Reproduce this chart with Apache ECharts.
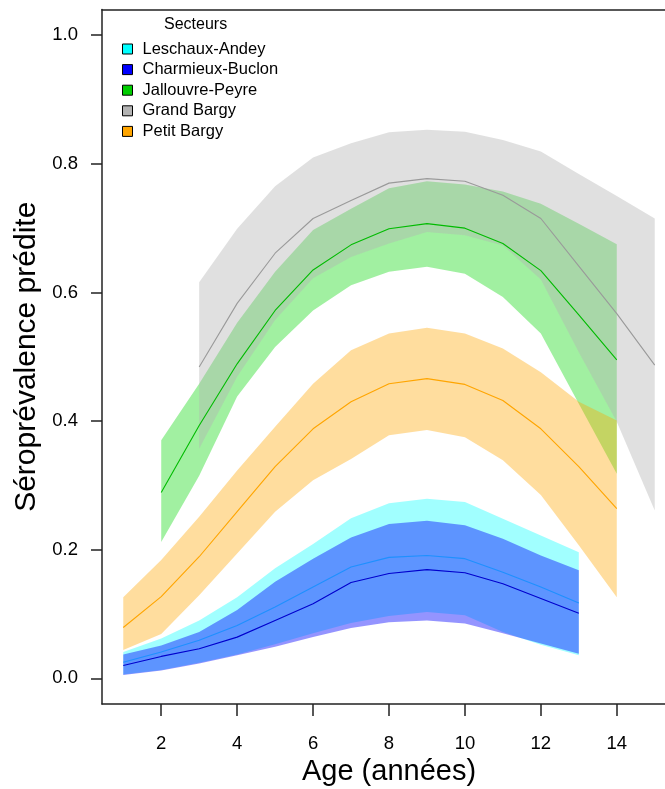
<!DOCTYPE html>
<html>
<head>
<meta charset="utf-8">
<script src="https://cdn.jsdelivr.net/npm/echarts@6/dist/echarts.min.js"></script>
<style>
html,body{margin:0;padding:0;background:#fff;}
#chart{width:665px;height:789px;}
</style>
</head>
<body>
<div id="chart"></div>
<script>
// ---------- data ----------
const sectorNames = ['Leschaux-Andey','Charmieux-Buclon','Jallouvre-Peyre','Grand Bargy','Petit Bargy'];

const ageLA = [1,2,3,4,5,6,7,8,9,10,11,12,13];
const fitLA = [0.025,0.041,0.059,0.082,0.111,0.142,0.173,0.188,0.191,0.186,0.165,0.142,0.117];
const upLA  = [0.041,0.062,0.090,0.126,0.171,0.209,0.249,0.272,0.279,0.274,0.248,0.222,0.196];
const loLA  = [0.006,0.013,0.024,0.037,0.053,0.070,0.086,0.097,0.103,0.098,0.072,0.052,0.036];

const ageCB = [1,2,3,4,5,6,7,8,9,10,11,12,13];
const fitCB = [0.020,0.034,0.046,0.064,0.090,0.116,0.149,0.163,0.169,0.164,0.147,0.124,0.101];
const upCB  = [0.037,0.051,0.072,0.106,0.150,0.186,0.219,0.240,0.245,0.238,0.217,0.191,0.168];
const loCB  = [0.005,0.012,0.023,0.036,0.049,0.064,0.078,0.087,0.090,0.085,0.070,0.054,0.038];

const ageJP = [2,3,4,5,6,7,8,9,10,11,12,13,14];
const fitJP = [0.289,0.393,0.489,0.572,0.635,0.674,0.699,0.707,0.700,0.676,0.634,0.565,0.495];
const upJP  = [0.370,0.458,0.553,0.632,0.697,0.730,0.762,0.773,0.768,0.757,0.738,0.707,0.675];
const loJP  = [0.212,0.315,0.438,0.515,0.572,0.611,0.632,0.640,0.629,0.593,0.536,0.427,0.318];

const ageGB = [3,4,5,6,7,8,9,10,11,12,13,14,15];
const fitGB = [0.484,0.583,0.661,0.715,0.743,0.770,0.777,0.773,0.751,0.715,0.641,0.567,0.487];
const upGB  = [0.616,0.699,0.765,0.810,0.832,0.849,0.853,0.850,0.837,0.819,0.784,0.750,0.715];
const loGB  = [0.357,0.469,0.557,0.622,0.655,0.676,0.694,0.689,0.673,0.620,0.507,0.399,0.261];

const agePB = [1,2,3,4,5,6,7,8,9,10,11,12,13,14];
const fitPB = [0.079,0.127,0.189,0.259,0.329,0.388,0.430,0.458,0.466,0.457,0.432,0.388,0.329,0.264];
const upPB  = [0.126,0.184,0.251,0.323,0.391,0.458,0.510,0.536,0.545,0.536,0.513,0.476,0.430,0.401];
const loPB  = [0.044,0.069,0.129,0.194,0.259,0.308,0.341,0.378,0.386,0.375,0.339,0.285,0.207,0.126];

const xTicks = [2,4,6,8,10,12,14];
const yTicks = [0,0.2,0.4,0.6,0.8,1.0];

// ---------- styling ----------
const FONT = "'Liberation Sans', Arial, sans-serif";
const legendColors = ['#00ffff','#0000ff','#00cd00','#b3b3b3','#ffa500'];
const bandColors = ['rgba(0,255,255,0.37)','rgba(0,0,255,0.42)','rgba(0,215,0,0.37)','rgba(179,179,179,0.41)','rgba(255,165,0,0.38)'];
const lineColors = ['#1e90ff','#0000cd','#00bb00','#9a9a9a','#ffa500'];
const AXIS = { color: '#222', width: 1.5 };

const groups = [
  [ageLA, fitLA, upLA, loLA],
  [ageCB, fitCB, upCB, loCB],
  [ageJP, fitJP, upJP, loJP],
  [ageGB, fitGB, upGB, loGB],
  [agePB, fitPB, upPB, loPB]
];

function bandSeries(name, xs, hi, lo, color, z) {
  return {
    type: 'custom',
    name: name,
    coordinateSystem: 'cartesian2d',
    silent: true,
    z: z,
    data: xs.map((x, i) => [x, lo[i], hi[i]]),
    encode: { x: 0, y: [1, 2] },
    renderItem: function (params, api) {
      if (params.dataIndex !== 0) return null;
      const pts = [];
      for (let i = 0; i < xs.length; i++) pts.push(api.coord([xs[i], hi[i]]));
      for (let i = xs.length - 1; i >= 0; i--) pts.push(api.coord([xs[i], lo[i]]));
      return { type: 'polygon', shape: { points: pts }, style: { fill: color } };
    }
  };
}

const series = [];
groups.forEach((g, k) => {
  series.push(bandSeries(sectorNames[k], g[0], g[2], g[3], bandColors[k], 2 + k * 2));
});
groups.forEach((g, k) => {
  series.push({
    type: 'line',
    name: sectorNames[k],
    data: g[0].map((x, i) => [x, g[1][i]]),
    showSymbol: false,
    symbol: 'none',
    silent: true,
    z: 20 + k,
    lineStyle: { color: lineColors[k], width: 1.1 },
    itemStyle: { color: lineColors[k] }
  });
});

const chart = echarts.init(document.getElementById('chart'), null, { renderer: 'canvas' });
chart.setOption({
  animation: false,
  backgroundColor: '#ffffff',
  textStyle: { fontFamily: FONT },
  grid: {
    left: 102, top: 9.5, width: 574, height: 694.5,
    containLabel: false, outerBoundsMode: 'none', show: false
  },
  graphic: [{
    type: 'text', left: 164, top: 17,
    style: { text: 'Secteurs', font: '16px ' + FONT, fill: '#000' }
  }],
  legend: {
    orient: 'vertical', left: 117, top: 35.5,
    icon: 'rect', itemWidth: 10, itemHeight: 10, itemGap: 3.6,
    selectedMode: false,
    textStyle: { fontFamily: FONT, fontSize: 16.5, color: '#000', lineHeight: 16, padding: [0, 0, 0, 5] },
    data: sectorNames.map((n, k) => ({
      name: n,
      itemStyle: { color: legendColors[k], borderColor: '#000', borderWidth: 1 }
    }))
  },
  xAxis: [{
    type: 'value', min: 0.44, max: 15.56, position: 'bottom',
    name: 'Age (années)', nameLocation: 'middle', nameGap: 50,
    nameTextStyle: { fontFamily: FONT, fontSize: 29, color: '#000' },
    axisLine: { show: true, onZero: false, lineStyle: AXIS },
    splitLine: { show: false },
    axisTick: { show: true, length: 12, lineStyle: AXIS, customValues: xTicks },
    axisLabel: { customValues: xTicks, margin: 30, fontSize: 18.5, color: '#000', fontFamily: FONT }
  }, {
    type: 'value', min: 0.44, max: 15.56, position: 'top',
    axisLine: { show: true, onZero: false, lineStyle: AXIS },
    axisTick: { show: false }, axisLabel: { show: false }, splitLine: { show: false }
  }],
  yAxis: {
    type: 'value', min: -0.04, max: 1.04,
    name: 'Séroprévalence prédite', nameLocation: 'middle', nameGap: 56,
    nameTextStyle: { fontFamily: FONT, fontSize: 30, color: '#000' },
    axisLine: { show: true, onZero: false, lineStyle: AXIS },
    splitLine: { show: false },
    axisTick: { show: true, length: 11, lineStyle: AXIS, customValues: yTicks },
    axisLabel: { customValues: yTicks, margin: 24, fontSize: 18.5, color: '#000', fontFamily: FONT,
      formatter: v => Number(v).toFixed(1) }
  },
  series: series
});
</script>
</body>
</html>
